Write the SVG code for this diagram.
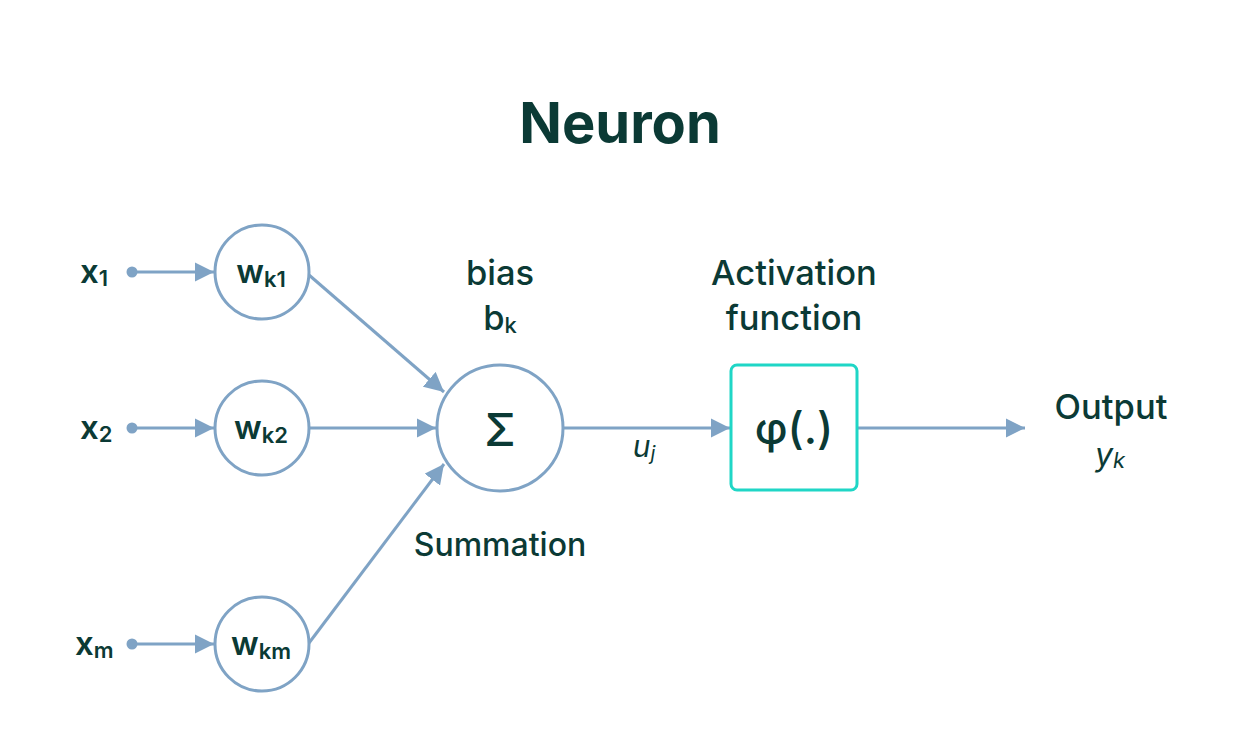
<svg xmlns="http://www.w3.org/2000/svg" width="1250" height="736" viewBox="0 0 1250 736">
<defs>
<marker id="arr" viewBox="0 0 10 10" refX="10" refY="5" markerWidth="6.5" markerHeight="6.5" markerUnits="strokeWidth" orient="auto">
<path d="M0,0 L10,5 L0,10 z" fill="#7fa3c5"/>
</marker>
<style>
.t{font-family:Inter,"Liberation Sans",sans-serif;fill:#0b3a35;}
.lbl{font-size:34.5px;font-weight:500;}
.var{font-size:33px;font-weight:600;}
.sub{font-size:22px;}
.c{fill:#fff;stroke:#7fa3c5;stroke-width:3;}
.ln{stroke:#7fa3c5;stroke-width:3;fill:none;}
</style>
</defs>
<rect width="1250" height="736" fill="#fff"/>
<text class="t" x="620" y="143" text-anchor="middle" font-size="56" font-weight="700">Neuron</text>

<g id="connectors">
<circle cx="132" cy="272" r="5.5" fill="#7fa3c5"/>
<circle cx="132" cy="428" r="5.5" fill="#7fa3c5"/>
<circle cx="132" cy="644" r="5.5" fill="#7fa3c5"/>
<line class="ln" x1="132" y1="272" x2="214" y2="272" marker-end="url(#arr)"/>
<line class="ln" x1="132" y1="428" x2="214" y2="428" marker-end="url(#arr)"/>
<line class="ln" x1="132" y1="644" x2="214" y2="644" marker-end="url(#arr)"/>
<line class="ln" x1="309" y1="275" x2="444" y2="392" marker-end="url(#arr)"/>
<line class="ln" x1="309" y1="428" x2="436" y2="428" marker-end="url(#arr)"/>
<line class="ln" x1="309" y1="643" x2="444" y2="464" marker-end="url(#arr)"/>
<line class="ln" x1="563" y1="428" x2="730" y2="428" marker-end="url(#arr)"/>
<line class="ln" x1="857" y1="428" x2="1025" y2="428" marker-end="url(#arr)"/>
</g>

<g id="x1"><text class="t var" x="80" y="283">x<tspan class="sub" dy="3">1</tspan></text></g>
<g id="x2"><text class="t var" x="80" y="439">x<tspan class="sub" dy="3">2</tspan></text></g>
<g id="xm"><text class="t var" x="75" y="655">x<tspan class="sub" dy="3">m</tspan></text></g>

<g id="wk1"><circle class="c" cx="262" cy="272" r="47"/><text class="t var" x="261" y="283" text-anchor="middle">w<tspan class="sub" dy="4">k1</tspan></text></g>
<g id="wk2"><circle class="c" cx="262" cy="428" r="47"/><text class="t var" x="261" y="439" text-anchor="middle">w<tspan class="sub" dy="4">k2</tspan></text></g>
<g id="wkm"><circle class="c" cx="262" cy="644" r="47"/><text class="t var" x="261" y="655" text-anchor="middle">w<tspan class="sub" dy="4">km</tspan></text></g>

<g id="sum">
<circle class="c" cx="500" cy="428" r="63"/>
<text class="t" x="500" y="446" text-anchor="middle" font-size="45" font-weight="500">Σ</text>
<text class="t lbl" x="500" y="285" text-anchor="middle">bias</text>
<text class="t lbl" x="500" y="330" text-anchor="middle">b<tspan class="sub" dy="3">k</tspan></text>
<text class="t lbl" x="500" y="556" text-anchor="middle" style="font-size:32px">Summation</text>
</g>

<g id="uj"><text class="t" x="644" y="457" text-anchor="middle" font-size="30" font-style="italic">u<tspan font-size="20" dy="3">j</tspan></text></g>

<g id="activation">
<rect x="731" y="365" width="126" height="125" rx="6" fill="#fff" stroke="#1fd6c6" stroke-width="3"/>
<text class="t" x="794" y="444" text-anchor="middle" font-size="44" font-weight="500">φ(.)</text>
<text class="t lbl" x="794" y="285" text-anchor="middle">Activation</text>
<text class="t lbl" x="794" y="330" text-anchor="middle">function</text>
</g>

<g id="output">
<text class="t lbl" x="1111" y="419" text-anchor="middle">Output</text>
<text class="t" x="1110" y="466" text-anchor="middle" font-size="32" font-style="italic">y<tspan font-size="22" dy="2">k</tspan></text>
</g>
</svg>
